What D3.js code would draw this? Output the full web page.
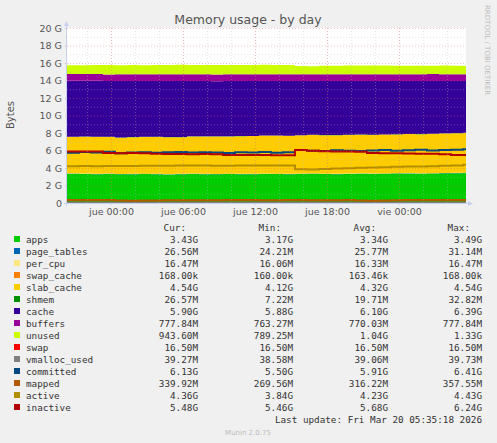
<!DOCTYPE html>
<html><head><meta charset="utf-8">
<script src="https://cdn.jsdelivr.net/npm/d3@7"></script>
<style>body{margin:0;background:#f0f0f0;}svg{display:block;}</style>
</head><body><div id="chart"></div>
<script>
// hourly samples, Wed 20:00 -> Fri 05:00, plus final 05:35
const hours = d3.range(34);
const apps = [3.35,3.33,3.30,3.32,3.28,3.30,3.31,3.29,3.27,3.30,3.32,3.30,3.28,3.31,3.29,3.30,3.33,3.31,3.30,3.32,3.34,3.31,3.30,3.33,3.35,3.32,3.34,3.36,3.38,3.35,3.37,3.40,3.41,3.43];
const page_tables = [0.026,0.025,0.026,0.027,0.025,0.024,0.025,0.026,0.026,0.025,0.026,0.027,0.025,0.026,0.026,0.025,0.026,0.027,0.026,0.031,0.026,0.025,0.026,0.026,0.025,0.026,0.026,0.027,0.026,0.025,0.026,0.026,0.027,0.027];
const per_cpu = hours.map((_, i) => i < 17 ? 0.0161 : 0.0165);
const swap_cache = hours.map(() => 0.00016);
const slab_cache = [4.18,4.20,4.22,4.19,4.15,4.17,4.20,4.22,4.21,4.18,4.24,4.26,4.28,4.25,4.30,4.31,4.33,4.35,4.34,4.38,4.40,4.39,4.41,4.40,4.42,4.41,4.44,4.43,4.45,4.47,4.48,4.50,4.52,4.54];
const shmem = [0.012,0.015,0.018,0.020,0.022,0.019,0.017,0.021,0.024,0.020,0.018,0.016,0.021,0.023,0.019,0.020,0.022,0.018,0.017,0.007,0.015,0.019,0.021,0.024,0.022,0.020,0.018,0.021,0.025,0.030,0.033,0.026,0.024,0.027];
const cache = [6.40,6.38,6.39,6.36,6.45,6.42,6.38,6.37,6.40,6.41,6.33,6.32,6.30,6.33,6.29,6.27,6.23,6.22,6.25,6.18,6.14,6.18,6.17,6.15,6.11,6.15,6.10,6.09,6.05,6.06,6.03,5.98,5.95,5.90];
const buffers = [0.770,0.772,0.768,0.765,0.763,0.766,0.768,0.770,0.769,0.767,0.770,0.771,0.772,0.769,0.768,0.770,0.771,0.772,0.773,0.775,0.772,0.770,0.769,0.771,0.770,0.768,0.769,0.771,0.772,0.773,0.774,0.775,0.776,0.778];
const unused = [0.98,1.00,1.03,1.07,1.05,1.06,1.04,1.05,1.06,1.07,1.06,1.05,1.07,1.04,1.06,1.07,1.07,1.06,1.04,0.95,0.93,0.97,0.96,0.99,1.00,1.01,1.00,0.98,0.97,0.95,0.96,0.98,0.96,0.94];
const swap = hours.map(() => 0.0165);
const vmalloc_used = hours.map(() => 0.039);
const committed = [5.75,5.82,5.78,5.85,5.70,5.76,5.80,5.74,5.79,5.83,5.77,5.81,5.76,5.72,5.80,5.78,5.82,5.75,5.79,6.05,5.98,5.95,6.02,5.97,5.93,6.00,6.05,5.98,6.03,6.08,6.01,6.06,6.10,6.13];
const mapped = [0.34,0.34,0.33,0.33,0.30,0.27,0.28,0.30,0.31,0.31,0.32,0.32,0.32,0.33,0.33,0.33,0.32,0.32,0.33,0.33,0.32,0.31,0.32,0.33,0.28,0.27,0.30,0.32,0.33,0.33,0.34,0.34,0.34,0.34];
const active = [4.20,4.22,4.20,4.23,4.24,4.22,4.25,4.27,4.26,4.28,4.30,4.28,4.27,4.26,4.29,4.30,4.28,4.30,4.29,3.86,3.84,3.90,3.95,3.98,4.02,4.06,4.10,4.15,4.18,4.16,4.20,4.25,4.30,4.36];
const inactive = [5.90,5.90,5.88,5.72,5.70,5.72,5.70,5.62,5.60,5.60,5.58,5.60,5.58,5.50,5.50,5.48,5.48,5.47,5.46,6.05,5.96,5.92,5.90,5.88,5.86,5.72,5.70,5.68,5.66,5.64,5.62,5.58,5.48,5.48];

const yTicks = [0, 2, 4, 6, 8, 10, 12, 14, 16, 18, 20];
const yTickLabels = ["0", "2 G", "4 G", "6 G", "8 G", "10 G", "12 G", "14 G", "16 G", "18 G", "20 G"];
const xTickTimes = ["2026-03-19T00:00", "2026-03-19T06:00", "2026-03-19T12:00", "2026-03-19T18:00", "2026-03-20T00:00"];
const xTickLabels = ["jue 00:00", "jue 06:00", "jue 12:00", "jue 18:00", "vie 00:00"];

const stackNames = ["apps","page_tables","per_cpu","swap_cache","slab_cache","shmem","cache","buffers","unused"];
const stackData = [apps,page_tables,per_cpu,swap_cache,slab_cache,shmem,cache,buffers,unused];
const lineNames = ["swap","vmalloc_used","committed","mapped","active","inactive"];
const lineData = [swap,vmalloc_used,committed,mapped,active,inactive];
const colors = {
    apps: "#00CC00", page_tables: "#0066B3", per_cpu: "#FFE680", swap_cache: "#FF8000",
    slab_cache: "#FFCC00", shmem: "#008F00", cache: "#330099", buffers: "#990099",
    unused: "#CCFF00", swap: "#FF0000", vmalloc_used: "#808080", committed: "#00487D",
    mapped: "#B35A00", active: "#B38F00", inactive: "#B30000",
};
const legendRows = [
    ["apps","3.43G","3.17G","3.34G","3.49G"],
    ["page_tables","26.56M","24.21M","25.77M","31.14M"],
    ["per_cpu","16.47M","16.06M","16.33M","16.47M"],
    ["swap_cache","168.00k","160.00k","163.46k","168.00k"],
    ["slab_cache","4.54G","4.12G","4.32G","4.54G"],
    ["shmem","26.57M","7.22M","19.71M","32.82M"],
    ["cache","5.90G","5.88G","6.10G","6.39G"],
    ["buffers","777.84M","763.27M","770.03M","777.84M"],
    ["unused","943.60M","789.25M","1.04G","1.33G"],
    ["swap","16.50M","16.50M","16.50M","16.50M"],
    ["vmalloc_used","39.27M","38.58M","39.06M","39.73M"],
    ["committed","6.13G","5.50G","5.91G","6.41G"],
    ["mapped","339.92M","269.56M","316.22M","357.55M"],
    ["active","4.36G","3.84G","4.23G","4.43G"],
    ["inactive","5.48G","5.46G","5.68G","6.24G"],
];

const W = 497, H = 443;
const svg = d3.select("#chart").append("svg").attr("width", W).attr("height", H);

const start = new Date("2026-03-18T20:20");
const times = hours.map(h => new Date(start.getTime() + h * 3600e3));
times.push(new Date("2026-03-20T05:35"));
const ext = a => a.concat([a[a.length - 1]]);

const x = d3.scaleTime().domain([start, times[times.length - 1]]).range([67, 466]);
const y = d3.scaleLinear().domain([0, 20]).range([203, 28]);

// plot background
svg.append("rect").attr("x", 67).attr("y", 28).attr("width", 399).attr("height", 175).attr("fill", "#fff");

const rows = times.map((t, i) => {
    const r = { t };
    stackNames.forEach((n, k) => r[n] = ext(stackData[k])[i]);
    return r;
});
const series = d3.stack().keys(stackNames)(rows);
const area = d3.area().curve(d3.curveStepAfter).x(d => x(d.data.t)).y0(d => y(d[0])).y1(d => y(d[1]));
svg.append("g").selectAll("path").data(series).join("path")
    .attr("d", area).attr("fill", d => colors[d.key]);

// lines
const line = d3.line().curve(d3.curveStepAfter).x((d, i) => x(times[i])).y(d => y(d));
svg.append("g").selectAll("path").data(lineNames).join("path")
    .attr("d", (n, k) => line(ext(lineData[k]))).attr("fill", "none")
    .attr("stroke", n => colors[n]).attr("stroke-width", 2);

// grid (drawn on top, like rrdtool)
const grid = svg.append("g").attr("opacity", 0.55);
d3.range(1, 20, 2).forEach(v => grid.append("line").attr("x1", 67).attr("x2", 466).attr("y1", y(v) + .5).attr("y2", y(v) + .5)
    .attr("stroke", "#bbb").attr("stroke-dasharray", "1,2").attr("stroke-width", 0.7));
yTicks.slice(1).forEach(v => grid.append("line").attr("x1", 67).attr("x2", 466).attr("y1", y(v) + .5).attr("y2", y(v) + .5)
    .attr("stroke", "#e06060").attr("stroke-dasharray", "1,2").attr("stroke-width", 0.7));
d3.timeHour.every(2).range(start, times[times.length - 1]).forEach(t => grid.append("line")
    .attr("x1", x(t) + .5).attr("x2", x(t) + .5).attr("y1", 28).attr("y2", 203)
    .attr("stroke", "#bbb").attr("stroke-dasharray", "1,2").attr("stroke-width", 0.7));
xTickTimes.forEach(s => grid.append("line").attr("x1", x(new Date(s)) + .5).attr("x2", x(new Date(s)) + .5)
    .attr("y1", 28).attr("y2", 203).attr("stroke", "#e06060").attr("stroke-dasharray", "1,2").attr("stroke-width", 0.7));

// axes
const yAxis = svg.append("g").attr("transform", "translate(67,0)")
    .call(d3.axisLeft(y).tickValues(yTicks).tickFormat((d, i) => yTickLabels[i]).tickSize(2));
const xAxis = svg.append("g").attr("transform", "translate(0,203)")
    .call(d3.axisBottom(x).tickValues(xTickTimes.map(s => new Date(s))).tickFormat((d, i) => xTickLabels[i]).tickSize(2));
[yAxis, xAxis].forEach(a => {
    a.selectAll("path,line").attr("stroke", "#ccd").attr("stroke-width", 1);
    a.selectAll("text").attr("fill", "#555").attr("font-family", "DejaVu Sans").attr("font-size", 9.5);
});
yAxis.select(".domain").remove();
xAxis.select(".domain").remove();
svg.append("line").attr("x1", 66.5).attr("x2", 66.5).attr("y1", 24).attr("y2", 206).attr("stroke", "#c8d0f0");
svg.append("line").attr("x1", 64).attr("x2", 470).attr("y1", 203.5).attr("y2", 203.5).attr("stroke", "#c8d0f0");
svg.append("path").attr("d", "M64,26 L66.5,21 L69,26 Z").attr("fill", "#c8d0f0");
svg.append("path").attr("d", "M468,201 L473,203.5 L468,206 Z").attr("fill", "#c8d0f0");

// texts
svg.append("text").attr("x", 248).attr("y", 24).attr("text-anchor", "middle")
    .attr("font-family", "DejaVu Sans").attr("font-size", 12.5).attr("fill", "#555").text("Memory usage - by day");
svg.append("text").attr("transform", "translate(14,115) rotate(-90)").attr("text-anchor", "middle")
    .attr("font-family", "DejaVu Sans").attr("font-size", 10).attr("fill", "#555").text("Bytes");
svg.append("text").attr("transform", "translate(485,5) rotate(90)").attr("text-anchor", "start")
    .attr("font-family", "DejaVu Sans").attr("font-size", 7).attr("fill", "#bbb").text("RRDTOOL / TOBI OETIKER");

// legend
const lg = svg.append("g").attr("font-family", "DejaVu Sans Mono").attr("font-size", 9.3).attr("fill", "#333");
const colX = [198, 293, 388, 482];
["Cur:", "Min:", "Avg:", "Max:"].forEach((h, i) => lg.append("text").attr("x", colX[i] - 12).attr("y", 231)
    .attr("text-anchor", "end").text(h));
legendRows.forEach((r, i) => {
    const yy = 243 + i * 12;
    lg.append("rect").attr("x", 14).attr("y", yy - 7).attr("width", 6).attr("height", 6).attr("fill", colors[r[0]]);
    lg.append("text").attr("x", 26).attr("y", yy).text(r[0]);
    r.slice(1).forEach((v, j) => lg.append("text").attr("x", colX[j]).attr("y", yy).attr("text-anchor", "end").text(v));
});
lg.append("text").attr("x", 482).attr("y", 423).attr("text-anchor", "end").text("Last update: Fri Mar 20 05:35:18 2026");
svg.append("text").attr("x", 248).attr("y", 435).attr("text-anchor", "middle")
    .attr("font-family", "DejaVu Sans").attr("font-size", 7).attr("fill", "#bbb").text("Munin 2.0.75");
</script></body></html>
